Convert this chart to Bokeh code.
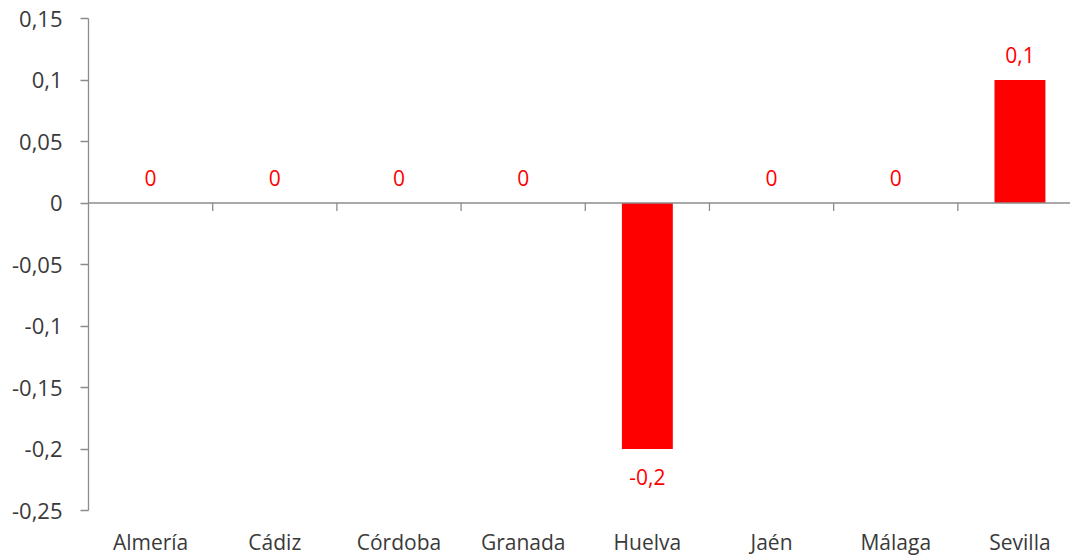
from bokeh.plotting import figure
from bokeh.models import (Range1d, FixedTicker, CustomJSTickFormatter, Span,
                          ColumnDataSource)
from bokeh.core.properties import value
from bokeh.embed import file_html
from bokeh.resources import INLINE

categories = ["Almería", "Cádiz", "Córdoba", "Granada", "Huelva", "Jaén", "Málaga", "Sevilla"]
values = [0, 0, 0, 0, -0.2, 0, 0, 0.1]
y_ticks = [-0.25, -0.2, -0.15, -0.1, -0.05, 0, 0.05, 0.1, 0.15]

RED = "#FF0000"
AXIS = "#8C8C8C"
TXT = "#3A3A3A"
FONT = "Open Sans"

n = len(categories)
xs = [i + 0.5 for i in range(n)]
labels = [("%g" % v).replace(".", ",") for v in values]
offsets = [-25 if v >= 0 else 28 for v in values]

src = ColumnDataSource(dict(x=xs, top=values, lab=labels, off=offsets))

p = figure(width=1070, height=558, output_backend="svg", toolbar_location=None,
           x_range=Range1d(0, 7.907), y_range=Range1d(-0.25, 0.15),
           min_border_left=88, min_border_right=0, min_border_top=18,
           min_border_bottom=46)
p.outline_line_color = None
p.grid.grid_line_color = None
p.background_fill_color = "white"
p.border_fill_color = "white"

# bars
p.vbar(x="x", top="top", bottom=0, width=0.41, source=src,
       fill_color=RED, line_color=None)

# zero line (category axis)
p.add_layout(Span(location=0, dimension="width", line_color=AXIS, line_width=1.5))
bounds = list(range(1, n + 1))
p.segment(x0=bounds, y0=[0] * len(bounds), x1=bounds,
          y1=[-0.0065] * len(bounds), line_color=AXIS, line_width=1.3)

# data labels
p.text(x="x", y="top", text="lab", y_offset="off", source=src,
       text_color=RED, text_align="center", text_baseline="middle",
       text_font_size="21px", text_font=value(FONT))

# y axis
ya = p.yaxis[0]
ya.ticker = FixedTicker(ticks=y_ticks)
ya.formatter = CustomJSTickFormatter(code="""
let s = tick.toFixed(2).replace(/0+$/, '').replace(/\\.$/, '');
return s.replace('.', ',');
""")
ya.axis_line_color = AXIS
ya.axis_line_width = 1.3
ya.major_tick_line_color = AXIS
ya.major_tick_line_width = 1.3
ya.major_tick_out = 8
ya.major_tick_in = 0
ya.minor_tick_line_color = None
ya.major_label_text_font = FONT
ya.major_label_text_font_size = "22px"
ya.major_label_text_color = TXT
ya.major_label_standoff = 18

# x axis: category labels only
xa = p.xaxis[0]
xa.ticker = FixedTicker(ticks=xs)
xa.major_label_overrides = {x: c for x, c in zip(xs, categories)}
xa.axis_line_color = None
xa.major_tick_line_color = None
xa.major_tick_out = 0
xa.major_tick_in = 0
xa.minor_tick_line_color = None
xa.major_label_text_font = FONT
xa.major_label_text_font_size = "21px"
xa.major_label_text_color = TXT
xa.major_label_standoff = 17

open("out.html", "w").write(file_html(p, INLINE))
